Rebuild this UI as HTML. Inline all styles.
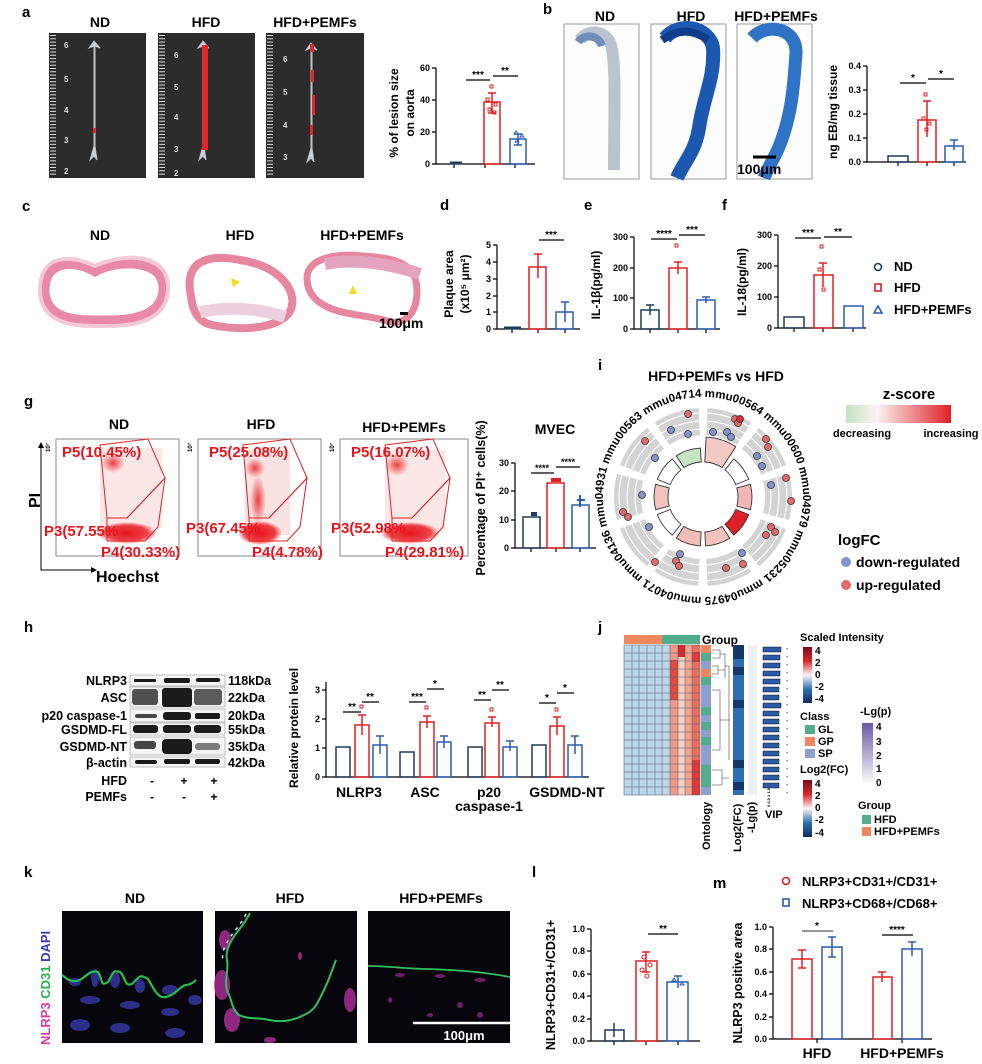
<!DOCTYPE html>
<html><head><meta charset="utf-8"><style>
body{margin:0;background:#fff}
svg{display:block}
text{font-family:"Liberation Sans",Arial,sans-serif;font-weight:bold}
.n{font-family:"Liberation Sans Narrow","Liberation Sans",sans-serif}
.t{font-size:10px}
.lab{font-size:15px;font-weight:bold}
.ti{font-size:14px}
</style></head><body>
<svg width="982" height="1064" viewBox="0 0 982 1064" xmlns="http://www.w3.org/2000/svg">
<defs>
<linearGradient id="zg" x1="0" x2="1"><stop offset="0" stop-color="#c4e3c0"/><stop offset="0.3" stop-color="#fbf2f2"/><stop offset="1" stop-color="#e01f26"/></linearGradient>
<linearGradient id="si" x1="0" y1="0" x2="0" y2="1"><stop offset="0" stop-color="#7a0b1d"/><stop offset="0.25" stop-color="#d9262b"/><stop offset="0.5" stop-color="#fbf5f3"/><stop offset="0.75" stop-color="#2f6fb5"/><stop offset="1" stop-color="#0e2c63"/></linearGradient>
<linearGradient id="lp" x1="0" y1="0" x2="0" y2="1"><stop offset="0" stop-color="#6a5aa6"/><stop offset="1" stop-color="#ffffff"/></linearGradient>
<radialGradient id="blob"><stop offset="0" stop-color="#e8141b"/><stop offset="0.7" stop-color="#e8141b" stop-opacity="0.8"/><stop offset="1" stop-color="#e8141b" stop-opacity="0"/></radialGradient>
<radialGradient id="blob2"><stop offset="0" stop-color="#e8141b" stop-opacity="0.8"/><stop offset="1" stop-color="#e8141b" stop-opacity="0"/></radialGradient>
<path id="cp" d="M703,397 a100,100 0 1,1 0,200 a100,100 0 1,1 0,-200"/>
</defs>

<!-- ===== a ===== -->
<text x="22" y="17" class="lab">a</text>
<g class="n ti" text-anchor="middle"><text x="100" y="27">ND</text><text x="206" y="27">HFD</text><text x="315" y="27">HFD+PEMFs</text></g>
<g>
<rect x="49" y="33" width="97" height="145" fill="#2c2c2c"/>
<rect x="158" y="33" width="97" height="145" fill="#2c2c2c"/>
<rect x="266" y="33" width="98" height="145" fill="#2c2c2c"/>
<g stroke="#ddd" stroke-width="1" stroke-dasharray="1 2.3">
<line x1="53" y1="35" x2="53" y2="176" stroke-width="6"/><line x1="162" y1="35" x2="162" y2="176" stroke-width="6"/><line x1="270" y1="35" x2="270" y2="176" stroke-width="6"/>
</g>
<g fill="#ddd" font-size="8" font-weight="normal"><text x="64" y="48">6</text><text x="64" y="82">5</text><text x="64" y="113">4</text><text x="64" y="143">3</text><text x="64" y="174">2</text>
<text x="174" y="58">6</text><text x="174" y="90">5</text><text x="174" y="120">4</text><text x="174" y="152">3</text><text x="174" y="176">2</text>
<text x="283" y="62">6</text><text x="283" y="95">5</text><text x="283" y="128">4</text><text x="283" y="160">3</text></g>
<path d="M94,41 l-5,7 l5,-2 l0,100 l-4,14 l4,-4 l3,4 l-2,-14 l0,-100 l5,2 z" fill="#d0d3d6" stroke="#bfc3c6"/>
<path d="M203,41 l-5,7 l5,-2 l0,100 l-4,14 l4,-4 l3,4 l-2,-14 l0,-100 l5,2 z" fill="#d0d3d6" stroke="#bfc3c6"/>
<rect x="202" y="45" width="6" height="105" fill="#e3262b"/>
<path d="M311,43 l-5,7 l5,-2 l0,100 l-4,14 l4,-4 l3,4 l-2,-14 l0,-100 l5,2 z" fill="#d0d3d6" stroke="#bfc3c6"/>
<g fill="#e3262b"><rect x="310" y="44" width="4" height="8"/><rect x="311" y="70" width="3" height="12"/><rect x="312" y="95" width="3" height="20"/><rect x="310" y="125" width="3" height="10"/><rect x="93" y="128" width="3" height="5"/></g>
</g>
<!-- chart a -->
<g stroke="#000" stroke-width="1.2" fill="none"><path d="M436,68 V164 H535"/><path d="M432,68 h4 M432,100 h4 M432,132 h4 M432,164 h4 M454,164 v4 M485,164 v4 M515,164 v4"/></g>
<g font-size="9" text-anchor="end"><text x="430" y="71">60</text><text x="430" y="103">40</text><text x="430" y="135">20</text><text x="430" y="167">0</text></g>
<text transform="translate(398,113) rotate(-90)" font-size="12" text-anchor="middle">% of lesion size</text>
<text transform="translate(414,113) rotate(-90)" font-size="12" text-anchor="middle">on aorta</text>
<g fill="none" stroke-width="1.5">
<rect x="484" y="102" width="16" height="62" stroke="#e02020"/><rect x="510" y="139" width="16" height="25" stroke="#2a5db0"/>
<path d="M492,93 v20 M488,93 h8 M488,113 h8" stroke="#e02020"/><path d="M518,134 v11 M514,134 h8 M514,145 h8" stroke="#2a5db0"/>
<path d="M450,163 h12" stroke="#1f3b5a" stroke-width="3"/>
</g>
<g fill="none" stroke="#e02020" stroke-width="1"><rect x="490" y="85" width="3" height="3"/><rect x="486" y="98" width="3" height="3"/><rect x="494" y="103" width="3" height="3"/><rect x="488" y="108" width="3" height="3"/><rect x="493" y="111" width="3" height="3"/></g>
<g fill="none" stroke="#2a5db0"><path d="M514,134 l2,-3 l2,3z M520,137 l2,-3 l2,3z M515,142 l2,-3 l2,3z"/></g>
<g stroke="#000" stroke-width="1.2"><line x1="466" y1="80" x2="490" y2="80"/><line x1="493" y1="76" x2="518" y2="76"/></g>
<g font-size="10" text-anchor="middle"><text x="478" y="78">***</text><text x="505" y="74">**</text></g>

<!-- ===== b ===== -->
<text x="543" y="14" class="lab">b</text>
<g class="n ti" text-anchor="middle"><text x="605" y="21">ND</text><text x="691" y="21">HFD</text><text x="776" y="21">HFD+PEMFs</text></g>
<g fill="#fdfdfd" stroke="#999"><rect x="564" y="24" width="75" height="155"/><rect x="651" y="24" width="75" height="155"/><rect x="737" y="24" width="75" height="155"/></g>
<path d="M580,40 c8,-12 30,-10 32,10 c4,20 2,60 2,120" fill="none" stroke="#a9b5c3" stroke-width="12" opacity="0.8"/>
<path d="M578,42 c6,-8 20,-8 24,4" fill="none" stroke="#6f8fb8" stroke-width="8"/>
<path d="M665,38 c15,-18 45,-10 48,10 c2,30 -10,50 -14,80 c-4,25 -16,35 -22,50" fill="none" stroke="#1c57b0" stroke-width="14"/>
<path d="M662,40 c14,-10 30,-12 46,0" fill="none" stroke="#0f3d8a" stroke-width="8"/>
<path d="M752,38 c15,-16 45,-10 44,15 c-2,30 -4,55 -12,80 c-6,20 -14,30 -20,45" fill="none" stroke="#2f73c6" stroke-width="13"/>
<line x1="753" y1="157" x2="776" y2="157" stroke="#000" stroke-width="3"/>
<text x="737" y="174" class="n" font-size="14" font-weight="normal">100μm</text>
<g stroke="#000" stroke-width="1.2" fill="none"><path d="M867,66 V162 H966"/><path d="M863,66 h4 M863,90 h4 M863,114 h4 M863,138 h4 M863,162 h4 M898,162 v4 M927,162 v4 M954,162 v4"/></g>
<g font-size="9" text-anchor="end"><text x="861" y="69">0.4</text><text x="861" y="93">0.3</text><text x="861" y="117">0.2</text><text x="861" y="141">0.1</text><text x="861" y="165">0.0</text></g>
<text transform="translate(837,112) rotate(-90)" font-size="12" text-anchor="middle">ng EB/mg tissue</text>
<g fill="none" stroke-width="1.5">
<rect x="888" y="156" width="20" height="6" stroke="#1f3b5a"/><rect x="918" y="120" width="18" height="42" stroke="#e02020"/><rect x="945" y="146" width="18" height="16" stroke="#2a5db0"/>
<path d="M927,101 v36 M923,101 h8" stroke="#e02020"/><path d="M954,140 v10 M950,140 h8" stroke="#2a5db0"/>
</g>
<g fill="none" stroke="#e02020"><rect x="924" y="93" width="3" height="3"/><rect x="922" y="117" width="3" height="3"/><rect x="928" y="122" width="3" height="3"/><rect x="925" y="128" width="3" height="3"/></g>
<g stroke="#000" stroke-width="1.2"><line x1="900" y1="83" x2="926" y2="83"/><line x1="928" y1="79" x2="954" y2="79"/></g>
<g font-size="10" text-anchor="middle"><text x="913" y="81">*</text><text x="941" y="77">*</text></g>

<!-- ===== c ===== -->
<text x="22" y="211" class="lab">c</text>
<g class="n ti" text-anchor="middle"><text x="100" y="240">ND</text><text x="240" y="240">HFD</text><text x="362" y="240">HFD+PEMFs</text></g>
<path d="M45,290 c0,-30 30,-30 50,-18 c20,-12 70,-14 68,18 c-2,30 -40,30 -60,30 c-20,0 -58,2 -58,-30z" fill="none" stroke="#e889a9" stroke-width="9"/>
<path d="M40,290 c0,-36 30,-36 55,-24 c25,-12 75,-16 73,24 c-2,36 -45,36 -65,36 c-20,0 -63,2 -63,-36z" fill="none" stroke="#f4c8d6" stroke-width="4"/>
<path d="M190,290 c-4,-30 20,-36 50,-30 c40,6 55,30 52,45 c-2,20 -40,28 -80,20 c-18,-4 -20,-20 -22,-35z" fill="none" stroke="#e7879f" stroke-width="8"/>
<path d="M200,312 c25,-5 55,-5 85,5" fill="none" stroke="#ecd0de" stroke-width="12"/>
<path d="M307,278 c0,-20 30,-25 55,-22 c30,2 55,5 55,35 c0,25 -15,35 -30,30 c-20,-6 -40,-6 -55,-12 c-15,-6 -25,-15 -25,-31z" fill="none" stroke="#e7879f" stroke-width="7"/>
<path d="M325,264 c20,-4 55,-4 95,10" fill="none" stroke="#e4a4c0" stroke-width="12"/>
<path d="M231,278 l9,4 l-7,5z M353,285 l4,9 l-8,0z" fill="#f3dc1c"/>
<rect x="400" y="312" width="8" height="3" fill="#000"/>
<text x="379" y="328" class="n" font-size="14" font-weight="normal">100μm</text>

<!-- ===== d ===== -->
<text x="440" y="210" class="lab">d</text>
<g stroke="#000" stroke-width="1.2" fill="none"><path d="M497,245 V329 H580"/><path d="M493,245 h4 M493,262 h4 M493,279 h4 M493,296 h4 M493,312 h4 M493,329 h4 M512,329 v4 M538,329 v4 M565,329 v4"/></g>
<g font-size="9" text-anchor="end"><text x="491" y="248">5</text><text x="491" y="265">4</text><text x="491" y="282">3</text><text x="491" y="299">2</text><text x="491" y="315">1</text><text x="491" y="332">0</text></g>
<text transform="translate(453,284) rotate(-90)" font-size="12" text-anchor="middle">Plaque area</text>
<text transform="translate(469,284) rotate(-90)" font-size="12" text-anchor="middle">(x10⁵ μm²)</text>
<g fill="none" stroke-width="1.5"><path d="M504,328 h17" stroke="#1f3b5a" stroke-width="3"/><rect x="529" y="267" width="17" height="62" stroke="#e02020"/><rect x="556" y="312" width="17" height="17" stroke="#2a5db0"/>
<path d="M538,254 v24 M534,254 h8" stroke="#e02020"/><path d="M565,302 v20 M561,302 h8" stroke="#2a5db0"/></g>
<g stroke="#000" stroke-width="1.2"><line x1="539" y1="240" x2="564" y2="240"/></g><text x="551" y="238" font-size="10" text-anchor="middle">***</text>

<!-- ===== e ===== -->
<text x="584" y="210" class="lab">e</text>
<g stroke="#000" stroke-width="1.2" fill="none"><path d="M634,237 V329 H720"/><path d="M630,237 h4 M630,268 h4 M630,298 h4 M630,329 h4 M650,329 v4 M678,329 v4 M706,329 v4"/></g>
<g font-size="9" text-anchor="end"><text x="628" y="240">300</text><text x="628" y="271">200</text><text x="628" y="301">100</text><text x="628" y="332">0</text></g>
<text transform="translate(600,285) rotate(-90)" font-size="12" text-anchor="middle">IL-1β(pg/ml)</text>
<g fill="none" stroke-width="1.5"><rect x="641" y="310" width="18" height="19" stroke="#1f3b5a"/><rect x="669" y="268" width="18" height="61" stroke="#e02020"/><rect x="697" y="300" width="18" height="29" stroke="#2a5db0"/>
<path d="M678,262 v12 M674,262 h8" stroke="#e02020"/><path d="M650,305 v10 M646,305 h8" stroke="#1f3b5a"/><path d="M706,297 v6 M702,297 h8" stroke="#2a5db0"/></g>
<rect x="675" y="244" width="3" height="3" fill="none" stroke="#e02020"/>
<g stroke="#000" stroke-width="1.2"><line x1="651" y1="239" x2="677" y2="239"/><line x1="679" y1="235" x2="705" y2="235"/></g>
<g font-size="10" text-anchor="middle"><text x="664" y="237">****</text><text x="692" y="233">***</text></g>

<!-- ===== f ===== -->
<text x="722" y="210" class="lab">f</text>
<g stroke="#000" stroke-width="1.2" fill="none"><path d="M778,235 V328 H866"/><path d="M774,235 h4 M774,266 h4 M774,297 h4 M774,328 h4 M794,328 v4 M823,328 v4 M853,328 v4"/></g>
<g font-size="9" text-anchor="end"><text x="772" y="238">300</text><text x="772" y="269">200</text><text x="772" y="300">100</text><text x="772" y="331">0</text></g>
<text transform="translate(746,282) rotate(-90)" font-size="12" text-anchor="middle">IL-18(pg/ml)</text>
<g fill="none" stroke-width="1.5"><rect x="784" y="317" width="20" height="11" stroke="#1f3b5a"/><rect x="814" y="275" width="19" height="53" stroke="#e02020"/><rect x="844" y="306" width="19" height="22" stroke="#2a5db0"/>
<path d="M823,263 v24 M819,263 h8" stroke="#e02020"/></g>
<g fill="none" stroke="#e02020"><rect x="820" y="245" width="3" height="3"/><rect x="818" y="268" width="3" height="3"/><rect x="822" y="288" width="3" height="3"/></g>
<g stroke="#000" stroke-width="1.2"><line x1="795" y1="238" x2="821" y2="238"/><line x1="824" y1="237" x2="852" y2="237"/></g>
<g font-size="10" text-anchor="middle"><text x="808" y="236">***</text><text x="838" y="235">**</text></g>
<!-- legend -->
<circle cx="878" cy="267" r="3.5" fill="none" stroke="#1f3b5a" stroke-width="1.6"/><text x="894" y="271" class="n" font-size="13">ND</text>
<rect x="875" y="284" width="6" height="7" fill="none" stroke="#e02020" stroke-width="1.6"/><text x="894" y="292" class="n" font-size="13">HFD</text>
<path d="M874,313 l4,-7 l4,7z" fill="none" stroke="#2a5db0" stroke-width="1.6"/><text x="894" y="314" class="n" font-size="13">HFD+PEMFs</text>

<!-- ===== g ===== -->
<text x="24" y="406" class="lab">g</text>
<g class="n ti" text-anchor="middle"><text x="119" y="429">ND</text><text x="261" y="429">HFD</text><text x="404" y="432">HFD+PEMFs</text></g>
<g fill="#fff" stroke="#888"><rect x="56" y="439" width="123" height="117"/><rect x="198" y="439" width="123" height="117"/><rect x="340" y="439" width="128" height="117"/></g>
<g>
<rect x="100" y="448" width="62" height="80" fill="#f3a0a0" opacity="0.25"/>
<ellipse cx="113" cy="463" rx="12" ry="10" fill="url(#blob2)"/>
<ellipse cx="127" cy="533" rx="30" ry="11" fill="url(#blob)"/>
<polygon points="100,445 148,439 165,478 127,518 107,518" fill="none" stroke="#e02020"/>
<polygon points="107,518 127,518 165,478 158,527 145,541 107,541" fill="none" stroke="#e02020"/>
</g>
<g>
<rect x="245" y="450" width="45" height="85" fill="#f3a0a0" opacity="0.3"/>
<ellipse cx="255" cy="468" rx="10" ry="10" fill="url(#blob2)"/>
<ellipse cx="258" cy="500" rx="8" ry="25" fill="url(#blob2)"/>
<ellipse cx="260" cy="533" rx="22" ry="12" fill="url(#blob)"/>
<polygon points="243,445 290,439 307,478 269,518 249,518" fill="none" stroke="#e02020"/>
<polygon points="249,518 269,518 307,478 300,527 287,541 249,541" fill="none" stroke="#e02020"/>
</g>
<g>
<rect x="385" y="450" width="60" height="80" fill="#f3a0a0" opacity="0.25"/>
<ellipse cx="397" cy="465" rx="12" ry="11" fill="url(#blob2)"/>
<ellipse cx="410" cy="533" rx="30" ry="11" fill="url(#blob)"/>
<polygon points="385,445 433,439 450,478 412,518 392,518" fill="none" stroke="#e02020"/>
<polygon points="392,518 412,518 450,478 443,527 430,541 392,541" fill="none" stroke="#e02020"/>
</g>
<g fill="#e8141b" class="n" font-size="15" font-weight="normal">
<text x="62" y="457">P5(10.45%)</text><text x="44" y="536">P3(57.55%</text><text x="101" y="557">P4(30.33%)</text>
<text x="209" y="457">P5(25.08%)</text><text x="186" y="533">P3(67.45%</text><text x="252" y="557">P4(4.78%)</text>
<text x="351" y="457">P5(16.07%)</text><text x="331" y="533">P3(52.98%</text><text x="385" y="557">P4(29.81%)</text>
</g>
<g font-size="6" font-weight="normal"><text transform="translate(50,452) rotate(-90)">10⁷</text><text transform="translate(192,452) rotate(-90)">10⁷</text><text transform="translate(334,452) rotate(-90)">10⁷</text></g>
<path d="M41,445 V570 H94" fill="none" stroke="#000"/><path d="M38,448 l3,-6 l3,6z M91,567 l6,3 l-6,3z"/>
<text transform="translate(40,508) rotate(-90)" font-size="16">PI</text>
<text x="96" y="582" class="n" font-size="16">Hoechst</text>
<text x="555" y="434" class="n" font-size="14" text-anchor="middle">MVEC</text>
<g stroke="#000" stroke-width="1.2" fill="none"><path d="M515,463 V548 H596"/><path d="M511,463 h4 M511,491 h4 M511,520 h4 M511,548 h4 M531,548 v4 M556,548 v4 M580,548 v4"/></g>
<g font-size="9" text-anchor="end"><text x="509" y="466">30</text><text x="509" y="494">20</text><text x="509" y="523">10</text><text x="509" y="551">0</text></g>
<text transform="translate(485,498) rotate(-90)" font-size="12.5" text-anchor="middle">Percentage of PI⁺ cells(%)</text>
<g fill="none" stroke-width="1.5"><rect x="523" y="517" width="17" height="31" stroke="#1f3b5a"/><rect x="547" y="483" width="17" height="65" stroke="#e02020"/><rect x="572" y="505" width="17" height="43" stroke="#2a5db0"/>
<path d="M531,514 h6" stroke="#1f3b5a" stroke-width="4"/><path d="M551,480 h10" stroke="#e02020" stroke-width="4"/><path d="M577,500 h8 M580,495 v12" stroke="#2a5db0" stroke-width="2"/></g>
<g stroke="#000" stroke-width="1.2"><line x1="531" y1="473" x2="554" y2="473"/><line x1="556" y1="467" x2="580" y2="467"/></g>
<g font-size="9" text-anchor="middle"><text x="542" y="471">****</text><text x="568" y="465">****</text></g>

<!-- ===== i ===== -->
<text x="598" y="370" class="lab">i</text>
<text x="716" y="381" class="n" font-size="14" text-anchor="middle">HFD+PEMFs vs HFD</text>
<circle cx="703" cy="497" r="75.5" fill="none" stroke="#d3d3d3" stroke-width="27" stroke-dasharray="39.5 7.94" transform="rotate(-87 703 497)"/>
<g fill="none" stroke="#fff" stroke-width="1.2"><circle cx="703" cy="497" r="68"/><circle cx="703" cy="497" r="76"/><circle cx="703" cy="497" r="84"/></g>
<g stroke="#333" stroke-width="0.9">
<path d="M706.1,437.1 A60,60 0 0 1 735.7,446.7 L722.1,467.6 A35,35 0 0 0 704.8,462.0 Z" fill="#f3c9c5"/>
<path d="M733.8,458.9 A49,49 0 0 1 748.7,479.4 L735.7,484.5 A35,35 0 0 0 725.0,469.8 Z" fill="#fff"/>
<path d="M750.3,484.3 A49,49 0 0 1 750.3,509.7 L736.8,506.1 A35,35 0 0 0 736.8,487.9 Z" fill="#f1b8b3"/>
<path d="M748.7,514.6 A49,49 0 0 1 733.8,535.1 L725.0,524.2 A35,35 0 0 0 735.7,509.5 Z" fill="#e01f26"/>
<path d="M729.7,538.1 A49,49 0 0 1 705.6,545.9 L704.8,531.9 A35,35 0 0 0 722.1,526.4 Z" fill="#f3c2bd"/>
<path d="M700.4,545.9 A49,49 0 0 1 676.3,538.1 L683.9,526.4 A35,35 0 0 0 701.2,531.9 Z" fill="#f2bdb8"/>
<path d="M672.2,535.1 A49,49 0 0 1 657.3,514.6 L670.3,509.5 A35,35 0 0 0 681.0,524.2 Z" fill="#fff"/>
<path d="M655.7,509.7 A49,49 0 0 1 655.7,484.3 L669.2,487.9 A35,35 0 0 0 669.2,506.1 Z" fill="#f3c2bd"/>
<path d="M657.3,479.4 A49,49 0 0 1 672.2,458.9 L681.0,469.8 A35,35 0 0 0 670.3,484.5 Z" fill="#fff"/>
<path d="M676.3,455.9 A49,49 0 0 1 700.4,448.1 L701.2,462.0 A35,35 0 0 0 683.9,467.6 Z" fill="#c7e4c3"/>
</g>
<g stroke="#333" stroke-width="0.8">
<g fill="#e36a6a"><circle cx="688" cy="414" r="3.5"/><circle cx="645" cy="441" r="3.5"/><circle cx="735" cy="419" r="3.5"/><circle cx="738" cy="423" r="3.5"/><circle cx="740" cy="419" r="3.5" fill="#d32f2f"/><circle cx="766" cy="439" r="3.5"/><circle cx="768" cy="447" r="3.5"/><circle cx="786" cy="478" r="3.5"/><circle cx="791" cy="501" r="3.5"/><circle cx="771" cy="527" r="3.5"/><circle cx="775" cy="532" r="3.5"/><circle cx="766" cy="535" r="3.5"/><circle cx="743" cy="564" r="3.5"/><circle cx="726" cy="568" r="3.5"/><circle cx="676" cy="561" r="3.5"/><circle cx="679" cy="566" r="3.5"/><circle cx="655" cy="562" r="3.5"/><circle cx="623" cy="512" r="3.5"/><circle cx="628" cy="517" r="3.5"/></g>
<g fill="#8393cc"><circle cx="671" cy="430" r="3.5"/><circle cx="688" cy="434" r="3.5"/><circle cx="655" cy="458" r="3.5"/><circle cx="713" cy="432" r="3.5"/><circle cx="727" cy="432" r="3.5"/><circle cx="731" cy="437" r="3.5"/><circle cx="757" cy="456" r="3.5"/><circle cx="762" cy="466" r="3.5"/><circle cx="771" cy="485" r="3.5"/><circle cx="742" cy="553" r="3.5"/><circle cx="680" cy="554" r="3.5"/><circle cx="649" cy="527" r="3.5"/><circle cx="642" cy="495" r="3.5"/></g>
</g>
<text font-size="11.5" font-weight="normal" class="n"><textPath href="#cp" startOffset="5%" text-anchor="middle">mmu00564</textPath></text>
<text font-size="11.5" font-weight="normal" class="n"><textPath href="#cp" startOffset="15%" text-anchor="middle">mmu00600</textPath></text>
<text font-size="11.5" font-weight="normal" class="n"><textPath href="#cp" startOffset="25%" text-anchor="middle">mmu04979</textPath></text>
<text font-size="11.5" font-weight="normal" class="n"><textPath href="#cp" startOffset="35%" text-anchor="middle">mmu05231</textPath></text>
<text font-size="11.5" font-weight="normal" class="n"><textPath href="#cp" startOffset="45%" text-anchor="middle">mmu04975</textPath></text>
<text font-size="11.5" font-weight="normal" class="n"><textPath href="#cp" startOffset="55%" text-anchor="middle">mmu04071</textPath></text>
<text font-size="11.5" font-weight="normal" class="n"><textPath href="#cp" startOffset="65%" text-anchor="middle">mmu04136</textPath></text>
<text font-size="11.5" font-weight="normal" class="n"><textPath href="#cp" startOffset="75%" text-anchor="middle">mmu04931</textPath></text>
<text font-size="11.5" font-weight="normal" class="n"><textPath href="#cp" startOffset="85%" text-anchor="middle">mmu00563</textPath></text>
<text font-size="11.5" font-weight="normal" class="n"><textPath href="#cp" startOffset="95%" text-anchor="middle">mmu04714</textPath></text>
<text x="909" y="399" class="n" font-size="15" text-anchor="middle">z-score</text>
<rect x="846" y="405" width="105" height="18" fill="url(#zg)"/>
<text x="862" y="437" class="n" font-size="11" font-weight="normal" text-anchor="middle">decreasing</text>
<text x="951" y="437" class="n" font-size="11" font-weight="normal" text-anchor="middle">increasing</text>
<text x="838" y="545" class="n" font-size="15">logFC</text>
<circle cx="846" cy="562" r="5" fill="#8393cc"/><text x="856" y="567" class="n" font-size="14">down-regulated</text>
<circle cx="846" cy="585" r="5" fill="#e36a6a"/><text x="856" y="590" class="n" font-size="14">up-regulated</text>

<!-- ===== h ===== -->
<text x="24" y="632" class="lab">h</text>
<g fill="#f4f4f4" stroke="#999" stroke-width="0.6">
<rect x="130" y="675" width="95" height="11"/><rect x="130" y="687" width="95" height="20"/><rect x="130" y="709" width="95" height="13"/><rect x="130" y="723" width="95" height="12"/><rect x="130" y="737" width="95" height="18"/><rect x="130" y="757" width="95" height="10"/>
</g>
<g fill="#1a1a1a">
<rect x="134" y="679" width="22" height="3" rx="1"/><rect x="164" y="678" width="26" height="5" rx="2"/><rect x="196" y="678" width="24" height="4" rx="2"/>
<rect x="132" y="689" width="26" height="16" rx="3" opacity="0.75"/><rect x="162" y="688" width="30" height="19" rx="3"/><rect x="194" y="689" width="28" height="16" rx="3" opacity="0.7"/>
<rect x="135" y="714" width="22" height="4" rx="2" opacity="0.8"/><rect x="163" y="712" width="28" height="8" rx="3"/><rect x="195" y="713" width="25" height="6" rx="2"/>
<rect x="133" y="725" width="25" height="8" rx="3"/><rect x="163" y="725" width="28" height="8" rx="3"/><rect x="194" y="725" width="27" height="8" rx="3"/>
<rect x="134" y="741" width="22" height="8" rx="3" opacity="0.8"/><rect x="162" y="739" width="30" height="15" rx="4"/><rect x="195" y="743" width="25" height="7" rx="3" opacity="0.55"/>
<rect x="135" y="760" width="22" height="4" rx="2"/><rect x="164" y="759" width="26" height="5" rx="2"/><rect x="195" y="759" width="25" height="5" rx="2"/>
</g>
<g font-size="12.5" text-anchor="end">
<text x="127" y="685">NLRP3</text><text x="127" y="702">ASC</text><text x="127" y="720">p20 caspase-1</text><text x="127" y="734">GSDMD-FL</text><text x="127" y="751">GSDMD-NT</text><text x="127" y="767">β-actin</text>
<text x="127" y="785">HFD</text><text x="127" y="801">PEMFs</text>
</g>
<g font-size="12.5"><text x="228" y="685">118kDa</text><text x="228" y="702">22kDa</text><text x="228" y="720">20kDa</text><text x="228" y="734">55kDa</text><text x="228" y="751">35kDa</text><text x="228" y="767">42kDa</text></g>
<g font-size="12" text-anchor="middle"><text x="152" y="785">-</text><text x="184" y="785">+</text><text x="214" y="785">+</text><text x="152" y="801">-</text><text x="184" y="801">-</text><text x="214" y="801">+</text></g>
<g stroke="#000" stroke-width="1.2" fill="none"><path d="M326,682 V777 H589"/><path d="M322,690 h4 M322,719 h4 M322,748 h4 M322,777 h4"/></g>
<g font-size="9" text-anchor="end"><text x="320" y="693">3</text><text x="320" y="722">2</text><text x="320" y="751">1</text><text x="320" y="780">0</text></g>
<text transform="translate(298,728) rotate(-90)" font-size="12" text-anchor="middle">Relative protein level</text>
<g fill="none" stroke-width="1.5">
<rect x="336" y="747" width="14" height="30" stroke="#1f3b5a"/><rect x="355" y="725" width="14" height="52" stroke="#e02020"/><rect x="373" y="745" width="14" height="32" stroke="#2a5db0"/>
<rect x="400" y="752" width="14" height="25" stroke="#1f3b5a"/><rect x="420" y="722" width="14" height="55" stroke="#e02020"/><rect x="437" y="742" width="14" height="35" stroke="#2a5db0"/>
<rect x="468" y="747" width="14" height="30" stroke="#1f3b5a"/><rect x="485" y="723" width="14" height="54" stroke="#e02020"/><rect x="503" y="747" width="14" height="30" stroke="#2a5db0"/>
<rect x="532" y="745" width="14" height="32" stroke="#1f3b5a"/><rect x="550" y="726" width="14" height="51" stroke="#e02020"/><rect x="568" y="745" width="14" height="32" stroke="#2a5db0"/>
<path d="M362,715 v20 M358,715 h8 M427,716 v12 M423,716 h8 M492,717 v10 M488,717 h8 M557,717 v18 M553,717 h8" stroke="#e02020"/>
<path d="M380,736 v18 M376,736 h8 M444,736 v12 M440,736 h8 M510,741 v10 M506,741 h8 M575,736 v18 M571,736 h8" stroke="#2a5db0"/>
</g>
<g fill="none" stroke="#e02020"><rect x="360" y="705" width="3" height="3"/><rect x="425" y="706" width="3" height="3"/><rect x="490" y="708" width="3" height="3"/><rect x="555" y="708" width="3" height="3"/></g>
<g stroke="#000" stroke-width="1.2"><path d="M343,712 h18 M362,702 h17 M409,702 h17 M427,689 h17 M474,700 h17 M492,690 h17 M539,703 h17 M557,693 h17"/></g>
<g font-size="10" text-anchor="middle"><text x="352" y="710">**</text><text x="370" y="700">**</text><text x="417" y="700">***</text><text x="435" y="687">*</text><text x="482" y="698">**</text><text x="500" y="688">**</text><text x="547" y="701">*</text><text x="565" y="691">*</text></g>
<g class="n" font-size="14" text-anchor="middle"><text x="359" y="797">NLRP3</text><text x="425" y="797">ASC</text><text x="489" y="797">p20</text><text x="489" y="811">caspase-1</text><text x="567" y="797">GSDMD-NT</text></g>

<!-- ===== j ===== -->
<text x="598" y="632" class="lab">j</text>
<rect x="624" y="635" width="38" height="9" fill="#f0875f"/><rect x="662" y="635" width="38" height="9" fill="#52ad8a"/>
<text x="702" y="644" class="n" font-size="12">Group</text>
<rect x="624" y="645" width="46" height="150" fill="#bcd7ea"/>
<g>
<rect x="670" y="645" width="8" height="150" fill="#ee9a86"/>
<rect x="678" y="645" width="7" height="150" fill="#f6d2c6"/>
<rect x="685" y="645" width="7" height="150" fill="#f0a58f"/>
<rect x="692" y="645" width="8" height="150" fill="#e7705f"/>
<rect x="670" y="660" width="8" height="40" fill="#e04b42"/><rect x="678" y="645" width="7" height="12" fill="#d7272d"/><rect x="692" y="652" width="8" height="10" fill="#e03a35"/><rect x="692" y="760" width="8" height="35" fill="#de3a35"/>
</g>
<g stroke="#556" stroke-width="0.5" fill="none">
<path d="M624,653 H700 M624,661 H700 M624,669 H700 M624,677 H700 M624,685 H700 M624,693 H700 M624,700 H700 M624,708 H700 M624,716 H700 M624,724 H700 M624,732 H700 M624,740 H700 M624,748 H700 M624,756 H700 M624,764 H700 M624,772 H700 M624,779 H700 M624,787 H700"/>
<path d="M632,645 V795 M639,645 V795 M647,645 V795 M655,645 V795 M662,645 V795 M670,645 V795 M678,645 V795 M685,645 V795 M692,645 V795"/>
<rect x="624" y="645" width="76" height="150"/>
</g>
<g><rect x="701" y="645" width="10" height="150" fill="#8d9fcf"/>
<rect x="701" y="645" width="10" height="8" fill="#f0875f"/><rect x="701" y="653" width="10" height="8" fill="#52ad8a"/><rect x="701" y="669" width="10" height="8" fill="#f0875f"/><rect x="701" y="677" width="10" height="8" fill="#52ad8a"/><rect x="701" y="707" width="10" height="8" fill="#52ad8a"/><rect x="701" y="722" width="10" height="8" fill="#52ad8a"/><rect x="701" y="737" width="10" height="8" fill="#52ad8a"/><rect x="701" y="765" width="10" height="22" fill="#52ad8a"/></g>
<path d="M712,650 h8 v8 h-8 M720,654 h5 v24 M712,666 h6 v8 h-6 M718,670 h7 M725,666 h4 v60 M712,690 h8 v60 h-8 M720,720 h9 M729,700 v60 M712,770 h10 v15 h-10 M722,778 h7" fill="none" stroke="#777" stroke-width="0.8"/>
<rect x="733" y="645" width="11" height="150" fill="#2d6db3"/>
<g fill="#13366f"><rect x="733" y="645" width="11" height="14"/><rect x="733" y="667" width="11" height="8"/><rect x="733" y="700" width="11" height="8"/><rect x="733" y="760" width="11" height="8"/><rect x="733" y="782" width="11" height="8"/></g>
<rect x="748" y="645" width="9" height="150" fill="#eeeef5"/>
<g fill="#2c5aa8" stroke="#111" stroke-width="0.5">
<rect x="763" y="647" width="18" height="5"/><rect x="763" y="655" width="17" height="5"/><rect x="763" y="663" width="17" height="5"/><rect x="763" y="671" width="17" height="5"/><rect x="763" y="679" width="17" height="5"/><rect x="763" y="687" width="16" height="5"/><rect x="763" y="695" width="16" height="5"/><rect x="763" y="703" width="18" height="5"/><rect x="763" y="711" width="16" height="5"/><rect x="763" y="719" width="16" height="5"/><rect x="763" y="727" width="16" height="5"/><rect x="763" y="735" width="16" height="5"/><rect x="763" y="743" width="16" height="5"/><rect x="763" y="751" width="16" height="5"/><rect x="763" y="759" width="16" height="5"/><rect x="763" y="767" width="16" height="5"/><rect x="763" y="775" width="16" height="5"/><rect x="763" y="783" width="16" height="5"/>
</g>
<path d="M787,648 v145" stroke="#777" stroke-dasharray="1 7" stroke-width="1.5"/>
<g font-size="11" font-weight="bold">
<text transform="translate(710,850) rotate(-90)">Ontology</text>
<text transform="translate(741,852) rotate(-90)">Log2(FC)</text>
<text transform="translate(755,833) rotate(-90)">-Lg(p)</text>
</g>
<text x="765" y="818" font-size="11">VIP</text>
<text transform="translate(770,807) rotate(-90)" font-size="4" font-weight="normal">0 0.5 1 1.5</text>
<text x="800" y="641" font-size="11">Scaled Intensity</text>
<rect x="803" y="647" width="9" height="56" fill="url(#si)"/>
<g font-size="10"><text x="815" y="654">4</text><text x="815" y="666">2</text><text x="815" y="678">0</text><text x="815" y="690">-2</text><text x="815" y="702">-4</text></g>
<text x="800" y="720" font-size="11">Class</text>
<rect x="805" y="725" width="10" height="9" fill="#52ad8a"/><text x="818" y="733" font-size="11">GL</text>
<rect x="805" y="737" width="10" height="9" fill="#f0875f"/><text x="818" y="745" font-size="11">GP</text>
<rect x="805" y="749" width="10" height="9" fill="#8d9fcf"/><text x="818" y="757" font-size="11">SP</text>
<text x="800" y="773" font-size="11">Log2(FC)</text>
<rect x="803" y="780" width="9" height="57" fill="url(#si)"/>
<g font-size="10"><text x="815" y="787">4</text><text x="815" y="799">2</text><text x="815" y="811">0</text><text x="815" y="823">-2</text><text x="815" y="836">-4</text></g>
<text x="860" y="715" font-size="11">-Lg(p)</text>
<rect x="862" y="723" width="11" height="62" fill="url(#lp)"/>
<g font-size="10"><text x="876" y="730">4</text><text x="876" y="745">3</text><text x="876" y="759">2</text><text x="876" y="772">1</text><text x="876" y="786">0</text></g>
<text x="858" y="809" font-size="11">Group</text>
<rect x="862" y="815" width="9" height="9" fill="#52ad8a"/><text x="874" y="823" font-size="11">HFD</text>
<rect x="862" y="827" width="9" height="9" fill="#f0875f"/><text x="874" y="835" font-size="11">HFD+PEMFs</text>

<!-- ===== k ===== -->
<text x="24" y="877" class="lab">k</text>
<g class="n ti" text-anchor="middle"><text x="135" y="903">ND</text><text x="290" y="903">HFD</text><text x="441" y="903">HFD+PEMFs</text></g>
<rect x="62" y="911" width="141" height="132" fill="#06060c"/>
<rect x="215" y="911" width="142" height="132" fill="#06060c"/>
<rect x="368" y="911" width="142" height="132" fill="#06060c"/>
<g fill="#3436a0" opacity="0.85">
<ellipse cx="75" cy="982" rx="6" ry="4"/><ellipse cx="95" cy="978" rx="4" ry="9"/><ellipse cx="115" cy="980" rx="5" ry="8"/><ellipse cx="140" cy="986" rx="5" ry="7"/><ellipse cx="170" cy="990" rx="8" ry="5"/><ellipse cx="90" cy="1000" rx="10" ry="4"/><ellipse cx="130" cy="1005" rx="10" ry="4"/><ellipse cx="170" cy="1012" rx="9" ry="4"/><ellipse cx="80" cy="1025" rx="10" ry="6"/><ellipse cx="120" cy="1028" rx="10" ry="5"/><ellipse cx="175" cy="1033" rx="10" ry="5"/><ellipse cx="195" cy="1000" rx="7" ry="5"/>
</g>
<path d="M62,975 c6,5 10,8 18,5 c8,-5 10,-10 18,-8 c5,8 2,15 10,10 c6,-10 4,-12 12,-10 c6,5 4,15 12,12 c8,-8 8,-10 16,-5 c6,10 10,20 18,18 c10,-2 15,-12 20,-12 c5,0 10,-5 10,-5" fill="none" stroke="#27c050" stroke-width="2.2"/>
<g fill="#b0309a" opacity="0.8"><ellipse cx="225" cy="940" rx="6" ry="10"/><ellipse cx="222" cy="985" rx="8" ry="15"/><ellipse cx="232" cy="1020" rx="8" ry="12"/><ellipse cx="350" cy="1000" rx="6" ry="12"/><ellipse cx="300" cy="956" rx="2" ry="4"/><ellipse cx="270" cy="1040" rx="6" ry="3"/></g>
<path d="M250,913 c-5,10 -10,15 -15,22 c-5,8 -10,15 -8,25 c2,10 -3,20 0,30 c5,10 5,20 12,25 c10,5 20,2 30,5 c15,3 25,0 35,-5 c12,-5 15,-15 20,-25 c5,-10 8,-20 12,-30" fill="none" stroke="#2fc060" stroke-width="2"/>
<path d="M246,914 c-5,10 -10,15 -15,22 c-5,8 -10,15 -8,25" fill="none" stroke="#e8e8f0" stroke-width="1.5" stroke-dasharray="3 5"/>
<path d="M368,966 c20,0 40,3 60,3 c25,1 50,2 82,8" fill="none" stroke="#2fc060" stroke-width="1.8"/>
<g fill="#9a2a90" opacity="0.7"><ellipse cx="400" cy="975" rx="5" ry="2"/><ellipse cx="440" cy="976" rx="5" ry="2"/><ellipse cx="480" cy="980" rx="6" ry="2"/><ellipse cx="390" cy="1000" rx="2" ry="3"/><ellipse cx="430" cy="1015" rx="3" ry="2"/><ellipse cx="460" cy="1005" rx="3" ry="3"/><ellipse cx="480" cy="1015" rx="3" ry="3"/></g>
<line x1="413" y1="1023" x2="512" y2="1023" stroke="#fff" stroke-width="2.5"/>
<text x="464" y="1040" fill="#fff" font-size="13" text-anchor="middle">100μm</text>
<text transform="translate(50,1045) rotate(-90)" font-size="13"><tspan fill="#d83aa8">NLRP3 </tspan><tspan fill="#25b24a">CD31 </tspan><tspan fill="#3939b5">DAPI</tspan></text>

<!-- ===== l ===== -->
<text x="532" y="877" class="lab">l</text>
<g stroke="#000" stroke-width="1.2" fill="none"><path d="M591,929 V1041 H700"/><path d="M587,929 h4 M587,951 h4 M587,974 h4 M587,996 h4 M587,1019 h4 M587,1041 h4 M614,1041 v4 M646,1041 v4 M678,1041 v4"/></g>
<g font-size="9" text-anchor="end"><text x="585" y="932">1.0</text><text x="585" y="954">0.8</text><text x="585" y="977">0.6</text><text x="585" y="999">0.4</text><text x="585" y="1022">0.2</text><text x="585" y="1044">0.0</text></g>
<text transform="translate(555,985) rotate(-90)" font-size="12.5" text-anchor="middle">NLRP3+CD31+/CD31+</text>
<g fill="none" stroke-width="1.5"><rect x="605" y="1030" width="19" height="11" stroke="#1f3b5a"/><rect x="636" y="961" width="21" height="80" stroke="#e02020"/><rect x="667" y="982" width="21" height="59" stroke="#2a5db0"/>
<path d="M646,952 v20 M642,952 h8 M642,972 h8" stroke="#e02020"/><path d="M678,976 v12 M674,976 h8" stroke="#2a5db0"/><path d="M614,1023 v14" stroke="#1f3b5a"/></g>
<g fill="none" stroke="#e02020"><circle cx="644" cy="957" r="2"/><circle cx="650" cy="965" r="2"/><circle cx="642" cy="970" r="2"/><circle cx="647" cy="976" r="2"/></g>
<g fill="none" stroke="#2a5db0"><path d="M672,981 l2,-3 l2,3z M680,985 l2,-3 l2,3z"/></g>
<line x1="648" y1="934" x2="678" y2="934" stroke="#000" stroke-width="1.2"/><text x="663" y="932" font-size="10" text-anchor="middle">**</text>

<!-- ===== m ===== -->
<text x="713" y="888" class="lab">m</text>
<circle cx="786" cy="881" r="3.5" fill="none" stroke="#e02020" stroke-width="1.6"/><text x="802" y="886" class="n" font-size="13">NLRP3+CD31+/CD31+</text>
<rect x="783" y="899" width="6" height="7" fill="none" stroke="#2a5db0" stroke-width="1.6"/><text x="802" y="908" class="n" font-size="13">NLRP3+CD68+/CD68+</text>
<g stroke="#000" stroke-width="1.2" fill="none"><path d="M773,927 V1039 H932"/><path d="M769,927 h4 M769,949 h4 M769,972 h4 M769,994 h4 M769,1017 h4 M769,1039 h4 M817,1039 v4 M902,1039 v4"/></g>
<g font-size="9" text-anchor="end"><text x="767" y="930">1.0</text><text x="767" y="952">0.8</text><text x="767" y="975">0.6</text><text x="767" y="997">0.4</text><text x="767" y="1020">0.2</text><text x="767" y="1042">0.0</text></g>
<text transform="translate(742,983) rotate(-90)" font-size="12.5" text-anchor="middle">NLRP3 positive area</text>
<g fill="none" stroke-width="1.5"><rect x="792" y="959" width="20" height="80" stroke="#e02020"/><rect x="822" y="947" width="20" height="92" stroke="#2a5db0"/><rect x="873" y="977" width="19" height="62" stroke="#e02020"/><rect x="902" y="949" width="20" height="90" stroke="#2a5db0"/>
<path d="M802,950 v18 M798,950 h8 M798,968 h8 M882,972 v10 M878,972 h8" stroke="#e02020"/><path d="M832,937 v20 M828,937 h8 M828,957 h8 M912,942 v14 M908,942 h8" stroke="#2a5db0"/></g>
<line x1="802" y1="931" x2="833" y2="931" stroke="#777" stroke-width="1.5"/><text x="817" y="929" font-size="10" text-anchor="middle">*</text>
<line x1="882" y1="935" x2="913" y2="935" stroke="#000" stroke-width="1.2"/><text x="897" y="933" font-size="10" text-anchor="middle">****</text>
<g class="n" font-size="14" text-anchor="middle"><text x="817" y="1058">HFD</text><text x="902" y="1058">HFD+PEMFs</text></g>
</svg>
</body></html>
